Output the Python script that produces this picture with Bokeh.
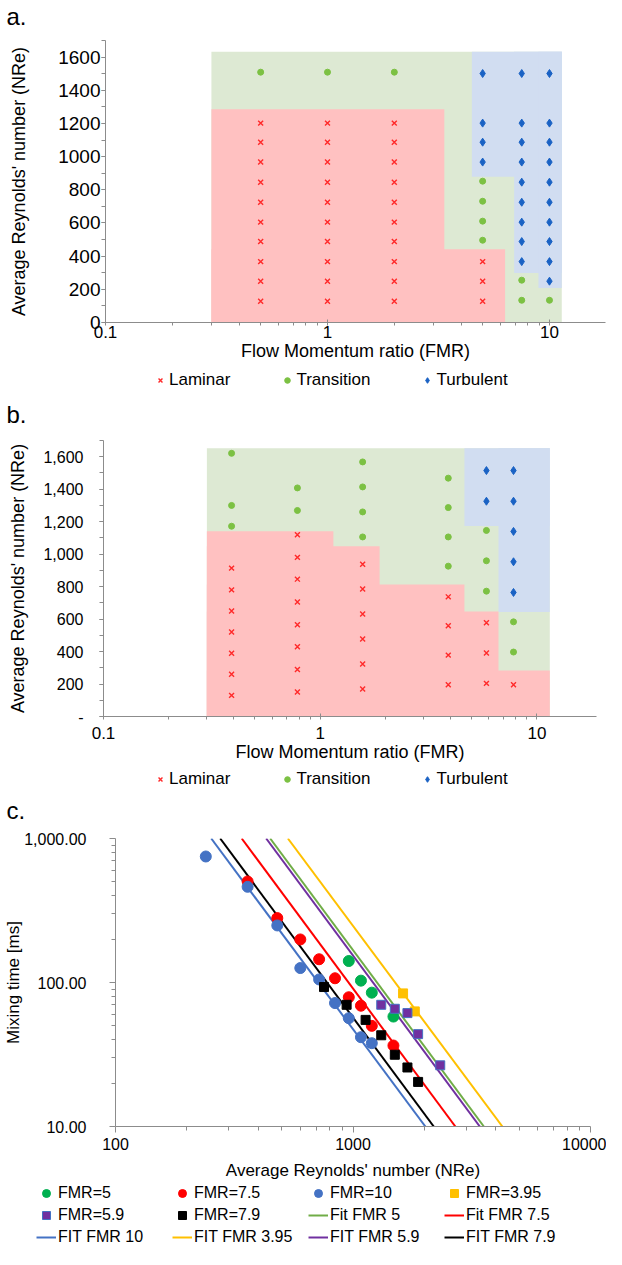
from bokeh.plotting import figure
from bokeh.models import (Range1d, FixedTicker, SingleIntervalTicker, NumeralTickFormatter,
                          CustomJSTickFormatter, Legend, LegendItem, Label)
from bokeh.layouts import column
from bokeh.embed import file_html
from bokeh.resources import INLINE

FONT = "Liberation Sans"
W = 606

# ---------------- panel a data ----------------
a_fmr = [0.5, 1, 2, 5, 7.5, 10]
a_laminar_re = [
    [128, 249, 367, 488, 605, 725, 846, 967, 1087, 1202],
    [128, 249, 367, 488, 605, 725, 846, 967, 1087, 1202],
    [128, 249, 367, 488, 605, 725, 846, 967, 1087, 1202],
    [128, 249, 367],
    [],
    [],
]
a_transition_re = [[1509], [1509], [1509], [496, 611, 731, 852], [134, 255], [134]]
a_turbulent_re = [
    [], [], [],
    [967, 1087, 1202, 1501],
    [367, 488, 605, 725, 846, 967, 1087, 1202, 1501],
    [249, 367, 488, 605, 725, 846, 967, 1087, 1202, 1501],
]
a_trans_left = [0.3]
a_trans_right = [11.36]
a_trans_bottom = [0]
a_trans_top = [1632]
a_turb_left = [4.47, 6.93, 8.92]
a_turb_right = [11.36, 11.36, 11.36]
a_turb_bottom = [878, 299, 208]
a_turb_top = [1632, 1632, 1632]
a_lam_left = [0.3, 0.3]
a_lam_right = [3.36, 6.31]
a_lam_bottom = [0, 0]
a_lam_top = [1286, 441]

# ---------------- panel b data ----------------
b_fmr = [0.39, 0.785, 1.57, 3.9, 5.85, 7.8]
b_laminar_re = [
    [130, 260, 390, 520, 650, 780, 914],
    [151, 290, 430, 565, 705, 846, 980, 1119],
    [169, 323, 477, 631, 785, 938],
    [196, 378, 559, 737],
    [204, 391, 577],
    [196],
]
b_transition_re = [
    [1172, 1300, 1621],
    [1269, 1408],
    [1106, 1260, 1414, 1568],
    [926, 1106, 1287, 1468],
    [772, 959, 1146],
    [397, 583],
]
b_turbulent_re = [[], [], [], [], [1326, 1515], [764, 953, 1140, 1326, 1515]]
b_trans_left = [0.3]
b_trans_right = [11.47]
b_trans_bottom = [0]
b_trans_top = [1652]
b_turb_left = [4.63, 6.65]
b_turb_right = [11.47, 11.47]
b_turb_bottom = [1174, 643]
b_turb_top = [1652, 1652]
b_lam_left = [0.3, 0.3, 0.3, 0.3, 0.3]
b_lam_right = [1.15, 1.88, 4.63, 6.65, 11.47]
b_lam_bottom = [0, 0, 0, 0, 0]
b_lam_top = [1141, 1049, 813, 647, 284]

fmr_major_ticks = [0.1, 1, 10]
fmr_minor_ticks = [0.2, 0.3, 0.4, 0.5, 0.6, 0.7, 0.8, 0.9, 2, 3, 4, 5, 6, 7, 8, 9]
regime_names = ["Laminar", "Transition", "Turbulent"]

# ---------------- panel c data ----------------
c_fmr5_re = [960, 1080, 1200, 1480]
c_fmr5_t = [141, 103, 85, 58]
c_fmr75_re = [360, 480, 600, 720, 840, 960, 1080, 1200, 1480]
c_fmr75_t = [503, 280, 199, 145, 107, 79, 69, 50, 36.5]
c_fmr10_re = [240, 360, 480, 600, 720, 840, 960, 1080, 1200]
c_fmr10_t = [750, 462, 249, 126, 105, 72, 56.5, 41.7, 37.9]
c_fmr395_re = [1625, 1820]
c_fmr395_t = [84, 63]
c_fmr59_re = [1315, 1500, 1695, 1880, 2330]
c_fmr59_t = [70, 65.7, 61.3, 43.8, 26.6]
c_fmr79_re = [755, 940, 1130, 1315, 1500, 1695, 1880]
c_fmr79_t = [93, 70, 55, 43, 31.5, 25.7, 20.4]

c_series_names = ["FMR=5", "FMR=7.5", "FMR=10", "FMR=3.95", "FMR=5.9", "FMR=7.9"]
c_series_markers = ["circle", "circle", "circle", "square", "square", "square"]
c_series_fill = ["#00b050", "#ff0000", "#4472c4", "#ffc000", "#7030a0", "#000000"]
c_series_edge = ["#00b050", "#ff0000", "#4472c4", "#ffc000", "#4472c4", "#000000"]

# fitted power-law lines: Re where the fit reaches 1000 ms and 10 ms
c_fit_names = ["Fit FMR 5", "Fit FMR 7.5", "FIT FMR 10", "FIT FMR 3.95", "FIT FMR 5.9", "FIT FMR 7.9"]
c_fit_re_at_top = [448, 340, 253, 532, 431, 276]
c_fit_re_at_bottom = [3556, 2698, 2017, 4256, 3420, 2188]
c_fit_t_ends = [1000, 10]
c_fit_colors = ["#70ad47", "#ff0000", "#4472c4", "#ffc000", "#7030a0", "#000000"]

c_re_major = [100, 1000, 10000]
c_re_minor = [200, 300, 400, 500, 600, 700, 800, 900, 2000, 3000, 4000, 5000, 6000, 7000, 8000, 9000]
c_t_major = [10, 100, 1000]
c_t_minor = [20, 30, 40, 50, 60, 70, 80, 90, 200, 300, 400, 500, 600, 700, 800, 900]

AXIS_GREY = "#8c8c8c"
COL_LAM_REGION = "#ffc1c1"
COL_TRANS_REGION = "#dde9d3"
COL_TURB_REGION = "#d1ddf1"
COL_LAM = "#ff2a2a"
COL_TRANS = "#7cc143"
COL_TURB = "#1a62c4"


def flatten(cols, groups):
    xs, ys = [], []
    for f, g in zip(cols, groups):
        xs.extend([f] * len(g))
        ys.extend(g)
    return xs, ys


def clean(p):
    p.xgrid.visible = False
    p.ygrid.visible = False
    p.outline_line_color = None
    p.background_fill_color = "white"
    p.border_fill_color = "white"


def style_axes(p):
    for ax in p.axis:
        ax.axis_line_color = AXIS_GREY
        ax.major_tick_line_color = AXIS_GREY
        ax.minor_tick_line_color = AXIS_GREY
        ax.major_label_text_font = FONT
        ax.axis_label_text_font = FONT
        ax.axis_label_text_font_style = "normal"
        ax.major_label_text_color = "black"
        ax.axis_label_text_color = "black"


def strip(h, letter=None, letter_y=0):
    """A plain strip (no axes) in pixel coordinates, used for legends and panel letters."""
    f = figure(output_backend="svg", toolbar_location=None, width=W, height=h,
               x_range=Range1d(0, W), y_range=Range1d(0, h), min_border=0,
               x_axis_location=None, y_axis_location=None, frame_align=False)
    clean(f)
    if letter:
        f.add_layout(Label(x=6, y=letter_y, text=letter, text_font=FONT, text_font_size="24px",
                           text_baseline="middle", text_align="left", text_color="black"))
    return f


def make_legend(items, x, y, **kw):
    opts = dict(orientation="horizontal", location=(x, y), glyph_height=20, label_height=20,
                label_standoff=2, padding=0, margin=0, border_line_color=None,
                background_fill_alpha=0, inactive_fill_alpha=0, label_text_font=FONT,
                label_text_color="black")
    opts.update(kw)
    return Legend(items=items, **opts)


def regime_legend(f, x, y, pts):
    (lx, ly), (tx, ty), (ux, uy) = pts
    # invisible proxies carrying the same data, used only for the legend swatches
    r1 = f.scatter(lx, ly, marker="x", size=7, line_color=COL_LAM, line_width=1.4, visible=False)
    r2 = f.scatter(tx, ty, marker="circle", size=6, fill_color=COL_TRANS, line_color=COL_TRANS, visible=False)
    r3 = f.scatter(ux, uy, marker="diamond", size=8, fill_color=COL_TURB, line_color=COL_TURB, visible=False)
    items = [LegendItem(label=n, renderers=[r]) for n, r in zip(regime_names, [r1, r2, r3])]
    f.add_layout(make_legend(items, x, y, glyph_width=14, spacing=50, label_text_font_size="17px"))


def regime_panel(fmr, lam, trans, turb, regions, x_end, height, borders, yfmt,
                 ylab_standoff, ytick_standoff, ytick_size, xtick_standoff):
    p = figure(output_backend="svg", toolbar_location=None, x_axis_type="log",
               x_range=Range1d(0.1, x_end), y_range=Range1d(0, 1700),
               width=W, height=height, frame_align=False,
               min_border_left=borders[0], min_border_right=borders[1],
               min_border_top=borders[2], min_border_bottom=borders[3])
    clean(p)
    (tl, tr, tb, tt), (ul, ur, ub, ut), (ll, lr, lb, lt) = regions
    p.quad(left=tl, right=tr, bottom=tb, top=tt, fill_color=COL_TRANS_REGION, line_color=None)
    p.quad(left=ul, right=ur, bottom=ub, top=ut, fill_color=COL_TURB_REGION, line_color=None)
    p.quad(left=ll, right=lr, bottom=lb, top=lt, fill_color=COL_LAM_REGION, line_color=None)
    pts = (flatten(fmr, lam), flatten(fmr, trans), flatten(fmr, turb))
    (lx, ly), (tx, ty), (ux, uy) = pts
    p.scatter(lx, ly, marker="x", size=7, line_color=COL_LAM, line_width=1.4)
    p.scatter(tx, ty, marker="circle", size=6, fill_color=COL_TRANS, line_color=COL_TRANS)
    p.scatter(ux, uy, marker="diamond", size=8, fill_color=COL_TURB, line_color=COL_TURB)
    style_axes(p)

    xa = p.xaxis[0]
    xa.ticker = FixedTicker(ticks=fmr_major_ticks, minor_ticks=fmr_minor_ticks)
    xa.formatter = CustomJSTickFormatter(code="return tick < 1 ? tick.toFixed(1) : tick.toFixed(0);")
    xa.axis_label = "Flow Momentum ratio (FMR)"
    xa.axis_label_text_font_size = "18px"
    xa.major_label_text_font_size = "17px"
    xa.major_tick_out = 3
    xa.major_tick_in = 3
    xa.minor_tick_out = 3
    xa.minor_tick_in = 0
    xa.major_label_standoff = xtick_standoff
    xa.axis_label_standoff = 0

    ya = p.yaxis[0]
    ya.ticker = SingleIntervalTicker(interval=200, num_minor_ticks=2)
    ya.formatter = yfmt
    ya.axis_label = "Average Reynolds' number (NRe)"
    ya.axis_label_text_font_size = "18px"
    ya.major_label_text_font_size = ytick_size
    ya.major_tick_out = 4
    ya.major_tick_in = 0
    ya.minor_tick_out = 4
    ya.minor_tick_in = 0
    ya.major_label_standoff = ytick_standoff
    ya.axis_label_standoff = ylab_standoff
    return p, pts


# ---- panel a ----
head_a = strip(40, "a.", 24)
pa, pts_a = regime_panel(a_fmr, a_laminar_re, a_transition_re, a_turbulent_re,
                         ((a_trans_left, a_trans_right, a_trans_bottom, a_trans_top),
                          (a_turb_left, a_turb_right, a_turb_bottom, a_turb_top),
                          (a_lam_left, a_lam_right, a_lam_bottom, a_lam_top)),
                         17.88, 327, (105, 1, 0, 45),
                         NumeralTickFormatter(format="0"), 26, 1, "19px", 0)
leg_a = strip(65, "b.", 18)
regime_legend(leg_a, 153, 42, pts_a)

# ---- panel b ----
pb, pts_b = regime_panel(b_fmr, b_laminar_re, b_transition_re, b_turbulent_re,
                         ((b_trans_left, b_trans_right, b_trans_bottom, b_trans_top),
                          (b_turb_left, b_turb_right, b_turb_bottom, b_turb_top),
                          (b_lam_left, b_lam_right, b_lam_bottom, b_lam_top)),
                         18.84, 334, (103, 10, 8, 50),
                         NumeralTickFormatter(format="0,0"), 12, 16, "16px", 7)
pb.yaxis[0].major_label_overrides = {0: "-"}
leg_b = strip(64, "c.", 20)
regime_legend(leg_b, 153, 41, pts_b)

# ---- panel c ----
pc = figure(output_backend="svg", toolbar_location=None, x_axis_type="log", y_axis_type="log",
            x_range=Range1d(100, 10000), y_range=Range1d(10, 1000),
            width=W, height=353, frame_align=False,
            min_border_left=115, min_border_right=16, min_border_top=8, min_border_bottom=57)
clean(pc)

for r0, r1_, col in zip(c_fit_re_at_top, c_fit_re_at_bottom, c_fit_colors):
    pc.line([r0, r1_], c_fit_t_ends, line_color=col, line_width=2)

c_re = [c_fmr5_re, c_fmr75_re, c_fmr10_re, c_fmr395_re, c_fmr59_re, c_fmr79_re]
c_t = [c_fmr5_t, c_fmr75_t, c_fmr10_t, c_fmr395_t, c_fmr59_t, c_fmr79_t]
for xs, ys, mk, fc, ec in zip(c_re, c_t, c_series_markers, c_series_fill, c_series_edge):
    pc.scatter(xs, ys, marker=mk, size=11 if mk == "circle" else 9,
               fill_color=fc, line_color=ec, line_width=1)
style_axes(pc)

xa = pc.xaxis[0]
xa.ticker = FixedTicker(ticks=c_re_major, minor_ticks=c_re_minor)
xa.formatter = NumeralTickFormatter(format="0")
xa.axis_label = "Average Reynolds' number (NRe)"
xa.axis_label_text_font_size = "17px"
xa.major_label_text_font_size = "16px"
xa.major_tick_out = 6
xa.major_tick_in = 0
xa.minor_tick_out = 4
xa.minor_tick_in = 0
xa.major_label_standoff = 5
xa.axis_label_standoff = 8

ya = pc.yaxis[0]
ya.ticker = FixedTicker(ticks=c_t_major, minor_ticks=c_t_minor)
ya.formatter = NumeralTickFormatter(format="0,0.00")
ya.axis_label = "Mixing time [ms]"
ya.axis_label_text_font_size = "17px"
ya.major_label_text_font_size = "16px"
ya.major_tick_out = 6
ya.major_tick_in = 0
ya.minor_tick_out = 4
ya.minor_tick_in = 0
ya.major_label_standoff = 23
ya.axis_label_standoff = -2

leg_c = strip(64)
c_items = []
for name, xs, ys, mk, fc, ec in zip(c_series_names, c_re, c_t, c_series_markers, c_series_fill, c_series_edge):
    r = leg_c.scatter(xs, ys, marker=mk, fill_color=fc, line_color=ec, line_width=1, visible=False)
    c_items.append(LegendItem(label=name, renderers=[r]))
for name, r0, r1_, col in zip(c_fit_names, c_fit_re_at_top, c_fit_re_at_bottom, c_fit_colors):
    r = leg_c.line([r0, r1_], c_fit_t_ends, line_color=col, line_width=2, visible=False)
    c_items.append(LegendItem(label=name, renderers=[r]))
leg_c.add_layout(make_legend(c_items, 36, 0, ncols=4, glyph_width=20, label_width=112,
                             spacing=2, label_text_font_size="16px"))

layout = column(head_a, pa, leg_a, pb, leg_b, pc, leg_c, spacing=0)
open("out.html", "w").write(file_html(layout, INLINE))
